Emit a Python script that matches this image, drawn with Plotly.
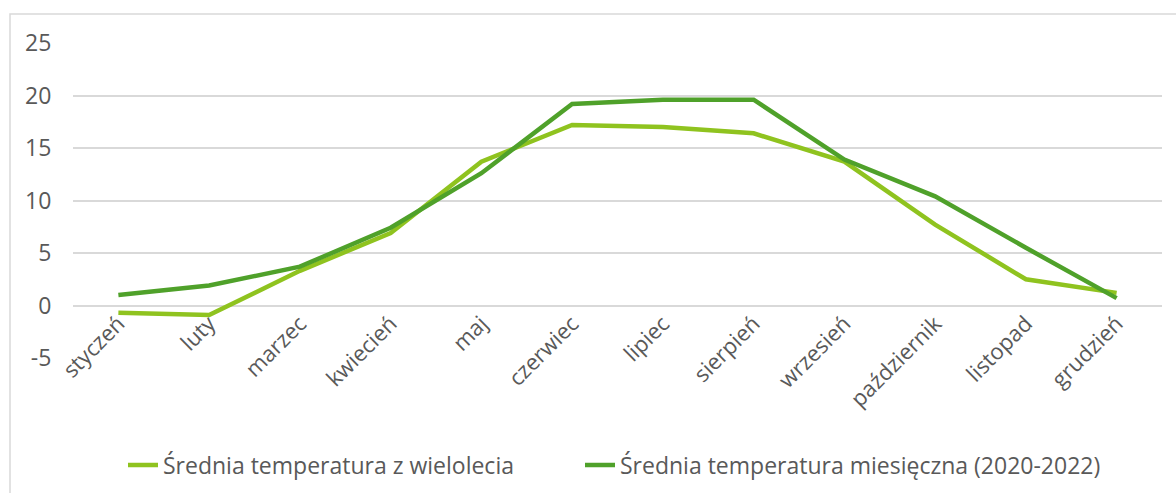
import plotly.graph_objects as go

months = ["styczeń", "luty", "marzec", "kwiecień", "maj", "czerwiec", "lipiec",
          "sierpień", "wrzesień", "październik", "listopad", "grudzień"]
long_term = [-0.7, -0.9, 3.3, 6.9, 13.7, 17.2, 17.0, 16.4, 13.7, 7.7, 2.5, 1.2]
monthly_2020_2022 = [1.0, 1.9, 3.7, 7.4, 12.6, 19.2, 19.6, 19.6, 13.9, 10.4, 5.5, 0.7]
y_ticks = [-5, 0, 5, 10, 15, 20, 25]
y_tick_labels = ["-5", "0", "5", "10", "15", "20", "25"]

name_long = "Średnia temperatura z wielolecia"
name_monthly = "Średnia temperatura miesięczna (2020-2022)"

fig = go.Figure()
fig.add_trace(go.Scatter(x=months, y=long_term, mode="lines", name=name_long,
                         line=dict(color="#8FC31F", width=4.5), legend="legend"))
fig.add_trace(go.Scatter(x=months, y=monthly_2020_2022, mode="lines", name=name_monthly,
                         line=dict(color="#4FA12A", width=4.5), legend="legend2"))

W, H = 1176, 493
ml, mr, mt, mb = 73, 14, 43, 135
pw = W - ml - mr
ph = H - mt - mb
ymin, ymax = -5, 25

legend_style = dict(orientation="h", xanchor="left", y=(358 - 465) / ph,
                    yanchor="middle", font=dict(family="Open Sans", size=23, color="#595959"),
                    itemwidth=30, bgcolor="rgba(0,0,0,0)")

fig.update_layout(
    width=W, height=H,
    margin=dict(l=ml, r=mr, t=mt, b=mb, autoexpand=False),
    paper_bgcolor="white", plot_bgcolor="white",
    font=dict(family="Open Sans", color="#595959", size=22),
    showlegend=True,
    legend=dict(x=(123 - ml) / pw, **legend_style),
    legend2=dict(x=(580 - ml) / pw, **legend_style),
    xaxis=dict(type="category", tickangle=-45, showgrid=False, showline=False,
               zeroline=False, ticks="", tickfont=dict(size=22, color="#595959"),
               range=[-0.5, 11.5], anchor="free",
               position=(0 - ymin) / (ymax - ymin)),
    yaxis=dict(range=[ymin, ymax], tickvals=y_ticks, ticktext=y_tick_labels,
               showgrid=True, gridcolor="#D9D9D9",
               gridwidth=1.5, zeroline=False, showline=False, ticks="outside",
               ticklen=16, tickcolor="rgba(0,0,0,0)",
               tickfont=dict(size=23, color="#595959")),
    shapes=[dict(type="rect", xref="paper", yref="paper",
                 x0=(10 - ml) / pw, x1=(W + 10 - ml) / pw,
                 y0=(358 - H - 10) / ph, y1=(358 - 14) / ph,
                 line=dict(color="#D9D9D9", width=1.5), fillcolor="rgba(0,0,0,0)",
                 layer="below")],
)

fig.write_html("out.html", config={"displayModeBar": False},
               post_script="document.body.style.margin='0';")
